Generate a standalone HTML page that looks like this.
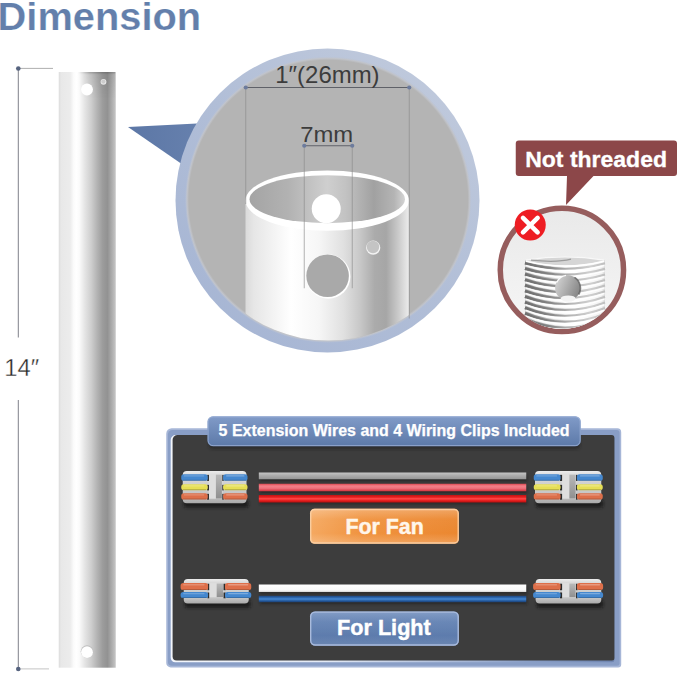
<!DOCTYPE html>
<html lang="en"><head><meta charset="utf-8"><title>Dimension</title>
<style>html,body{margin:0;padding:0;background:#fff}svg{display:block}text{font-family:"Liberation Sans",sans-serif}</style></head><body>
<svg width="679" height="673" viewBox="0 0 679 673">
<defs>
<linearGradient id="rod" x1="0" x2="1" y1="0" y2="0">
<stop offset="0" stop-color="#dcdcdc"/><stop offset="0.04" stop-color="#e8e8e8"/><stop offset="0.20" stop-color="#ececec"/><stop offset="0.26" stop-color="#fbfbfb"/>
<stop offset="0.31" stop-color="#ffffff"/><stop offset="0.36" stop-color="#fbfbfb"/><stop offset="0.46" stop-color="#e4e4e4"/><stop offset="0.57" stop-color="#cecece"/>
<stop offset="0.67" stop-color="#b4b4b4"/><stop offset="0.77" stop-color="#9c9c9c"/><stop offset="0.855" stop-color="#929292"/><stop offset="0.92" stop-color="#a8a8a8"/><stop offset="1" stop-color="#c6c6c6"/></linearGradient>
<linearGradient id="rodtop" x1="0" x2="0" y1="0" y2="1"><stop offset="0" stop-color="#000" stop-opacity="0.24"/><stop offset="0.1" stop-color="#000" stop-opacity="0.07"/><stop offset="0.6" stop-color="#000" stop-opacity="0.03"/><stop offset="1" stop-color="#000" stop-opacity="0"/></linearGradient>
<radialGradient id="ring" cx="327.5" cy="200.5" r="152" gradientUnits="userSpaceOnUse">
<stop offset="0" stop-color="#b4b4b4"/><stop offset="0.912" stop-color="#b4b4b4"/><stop offset="0.924" stop-color="#c3c6cd"/>
<stop offset="0.94" stop-color="#b7c1d5"/><stop offset="0.965" stop-color="#a9b8d4"/><stop offset="1" stop-color="#a2b3d2"/></radialGradient>
<clipPath id="inner"><circle cx="328.3" cy="199.6" r="141"/></clipPath>
<linearGradient id="tube" x1="0" x2="1" y1="0" y2="0">
<stop offset="0" stop-color="#dadada"/><stop offset="0.05" stop-color="#e6e6e6"/><stop offset="0.28" stop-color="#ffffff"/>
<stop offset="0.45" stop-color="#f6f6f6"/><stop offset="0.60" stop-color="#e0e0e0"/><stop offset="0.70" stop-color="#c8c8c8"/><stop offset="0.79" stop-color="#ababab"/>
<stop offset="0.86" stop-color="#a6a6a6"/><stop offset="0.93" stop-color="#c8c8c8"/><stop offset="1" stop-color="#ececec"/></linearGradient>
<linearGradient id="tubein" x1="0" x2="1" y1="0" y2="0">
<stop offset="0" stop-color="#a4a4a4"/><stop offset="0.25" stop-color="#b2b2b2"/><stop offset="0.50" stop-color="#cfcfcf"/>
<stop offset="0.62" stop-color="#c2c2c2"/><stop offset="0.80" stop-color="#a1a1a1"/><stop offset="0.93" stop-color="#b4b4b4"/>
<stop offset="1" stop-color="#d4d4d4"/></linearGradient>
<linearGradient id="ptr" x1="0" x2="1" y1="0" y2="0"><stop offset="0" stop-color="#5c77a6"/><stop offset="1" stop-color="#6680ad"/></linearGradient>
<linearGradient id="thbg" x1="0" x2="0" y1="0" y2="1"><stop offset="0" stop-color="#e9e9e9"/><stop offset="1" stop-color="#f6f6f6"/></linearGradient>
<clipPath id="thclip"><circle cx="561.9" cy="269.9" r="59"/></clipPath>
<linearGradient id="thshade" x1="0" x2="1" y1="0" y2="0"><stop offset="0" stop-color="#707070" stop-opacity="0.55"/><stop offset="0.18" stop-color="#9a9a9a" stop-opacity="0.2"/>
<stop offset="0.5" stop-color="#fff" stop-opacity="0.15"/><stop offset="0.8" stop-color="#fff" stop-opacity="0.35"/><stop offset="1" stop-color="#999" stop-opacity="0.35"/></linearGradient>
<linearGradient id="thhole" x1="0" x2="1" y1="0.2" y2="0.6"><stop offset="0" stop-color="#d4d4d4"/><stop offset="0.45" stop-color="#b1b1b1"/><stop offset="1" stop-color="#858585"/></linearGradient>
<linearGradient id="tab" x1="0" x2="0" y1="0" y2="1"><stop offset="0" stop-color="#819bc8"/><stop offset="1" stop-color="#5c79a8"/></linearGradient>
<linearGradient id="fan" x1="0" x2="1" y1="0" y2="0"><stop offset="0" stop-color="#f5a961"/><stop offset="0.35" stop-color="#f0933f"/><stop offset="1" stop-color="#eb8730"/></linearGradient>
<linearGradient id="light" x1="0" x2="0" y1="0" y2="1"><stop offset="0" stop-color="#6d8bbb"/><stop offset="1" stop-color="#5776a7"/></linearGradient>
<linearGradient id="wgrey" x1="0" x2="0" y1="0" y2="1"><stop offset="0" stop-color="#c6c6c6"/><stop offset="0.4" stop-color="#aeaeae"/><stop offset="1" stop-color="#959595"/></linearGradient>
<linearGradient id="wpink" x1="0" x2="0" y1="0" y2="1"><stop offset="0" stop-color="#dc4650"/><stop offset="0.3" stop-color="#f28088"/><stop offset="0.6" stop-color="#ee727c"/><stop offset="1" stop-color="#d2303b"/></linearGradient>
<linearGradient id="wred" x1="0" x2="0" y1="0" y2="1"><stop offset="0" stop-color="#c01212"/><stop offset="0.3" stop-color="#e82020"/><stop offset="0.5" stop-color="#ff4b4b"/><stop offset="0.7" stop-color="#ec2323"/><stop offset="1" stop-color="#b80e0e"/></linearGradient>
<linearGradient id="wwhite" x1="0" x2="0" y1="0" y2="1"><stop offset="0" stop-color="#ffffff"/><stop offset="0.75" stop-color="#fafafa"/><stop offset="1" stop-color="#d4d4d4"/></linearGradient>
<linearGradient id="wblue" x1="0" x2="0" y1="0" y2="1"><stop offset="0" stop-color="#1c447c"/><stop offset="0.3" stop-color="#2d68b0"/><stop offset="0.5" stop-color="#4588d2"/><stop offset="0.72" stop-color="#2b64a9"/><stop offset="1" stop-color="#193f75"/></linearGradient>
<linearGradient id="clipbody" x1="0" x2="0" y1="0" y2="1"><stop offset="0" stop-color="#ececec"/><stop offset="0.15" stop-color="#d9d9d9"/><stop offset="0.8" stop-color="#c2c2c2"/><stop offset="1" stop-color="#a9a9a9"/></linearGradient>
<linearGradient id="slot" x1="0" x2="0" y1="0" y2="1"><stop offset="0" stop-color="#b9b9b9"/><stop offset="1" stop-color="#8f8f8f"/></linearGradient>
<filter id="blur2" x="-20%" y="-50%" width="140%" height="200%"><feGaussianBlur stdDeviation="1.6"/></filter>
<filter id="blur1" x="-20%" y="-50%" width="140%" height="200%"><feGaussianBlur stdDeviation="0.8"/></filter>
</defs>
<rect width="679" height="673" fill="#fff"/>
<text x="-2.4" y="30" font-size="38.5" font-weight="700" fill="#637fab" stroke="#ffffff" stroke-width="0.2" textLength="203.6" lengthAdjust="spacingAndGlyphs">Dimension</text>
<g>
<line x1="18.3" y1="68.4" x2="53" y2="68.4" stroke="#8c8c8c" stroke-width="0.7"/>
<line x1="18.3" y1="668.9" x2="49" y2="668.9" stroke="#9c9c9c" stroke-width="0.6"/>
<line x1="18.3" y1="68.5" x2="18.3" y2="337.5" stroke="#474b58" stroke-width="0.7"/>
<line x1="18.3" y1="400" x2="18.3" y2="669" stroke="#474b58" stroke-width="0.7"/>
<circle cx="18.3" cy="68.5" r="2.3" fill="#56637f"/>
<circle cx="18.3" cy="669" r="2.3" fill="#56637f"/>
<text x="4.3" y="375.9" font-size="23.8" fill="#262626" stroke="#ffffff" stroke-width="0.35">14″</text>
</g>
<g>
<rect x="58.75" y="72" width="57" height="595.7" fill="url(#rod)"/>
<mask id="rtm"><linearGradient id="rtmg" x1="0" x2="1" y1="0" y2="0"><stop offset="0.33" stop-color="#000"/><stop offset="0.55" stop-color="#fff"/></linearGradient><rect x="58.75" y="72" width="56.75" height="30" fill="url(#rtmg)"/></mask>
<rect x="58.75" y="72" width="56.75" height="27" fill="url(#rodtop)" mask="url(#rtm)"/>
<circle cx="87" cy="89.5" r="5.9" fill="#ffffff"/>
<circle cx="103.5" cy="81.8" r="2.9" fill="#e9e9e9"/><circle cx="103.4" cy="81.6" r="2.1" fill="#cdcdcd"/>
<circle cx="87" cy="651.6" r="6.3" fill="#bdbdbd"/><circle cx="87" cy="652.2" r="5.9" fill="#ffffff"/>
</g>
<polygon points="128,127 197,123.4 181,163.5" fill="url(#ptr)"/>
<linearGradient id="ringlin" x1="0.85" y1="0.1" x2="0.15" y2="0.9"><stop offset="0" stop-color="#bfc9dc"/><stop offset="0.5" stop-color="#b1bed7"/><stop offset="1" stop-color="#a7b6d4"/></linearGradient>
<radialGradient id="innerRad" cx="328.3" cy="199.6" r="143.4" gradientUnits="userSpaceOnUse"><stop offset="0" stop-color="#b4b4b4"/><stop offset="0.972" stop-color="#b4b4b4"/><stop offset="0.986" stop-color="#c1c4cb"/><stop offset="1" stop-color="#b9c3d7" stop-opacity="0"/></radialGradient>
<circle cx="327.5" cy="200.5" r="152" fill="url(#ringlin)"/>
<circle cx="328.3" cy="199.6" r="143.4" fill="url(#innerRad)"/>
<g clip-path="url(#inner)">
<rect x="245.5" y="200.5" width="163.5" height="170" fill="url(#tube)"/>
</g>
<ellipse cx="327.25" cy="200.6" rx="81.75" ry="30.1" fill="#ffffff"/>
<ellipse cx="327.25" cy="199.2" rx="77.7" ry="24" fill="url(#tubein)"/>
<circle cx="326.25" cy="208.75" r="14.5" fill="#ffffff"/>
<circle cx="328.2" cy="276.5" r="22.2" fill="#ffffff"/><circle cx="327.6" cy="275.8" r="21.3" fill="#a9a9a9"/>
<circle cx="373.2" cy="247.7" r="7.1" fill="#f3f3f3"/><circle cx="373" cy="247" r="6.2" fill="#c4c4c4"/>
<g stroke="#8a8a8a" stroke-width="0.65" fill="none">
<line x1="245.75" y1="87.5" x2="245.75" y2="204"/>
<line x1="409.25" y1="87.5" x2="409.25" y2="318.5"/>
<line x1="304.25" y1="145.75" x2="304.25" y2="288.25"/>
<line x1="352.25" y1="145.75" x2="352.25" y2="288.25"/>
</g>
<g stroke="#5f6168" stroke-width="1" fill="none">
<line x1="245.75" y1="87.5" x2="409.25" y2="87.5"/>
<line x1="304.25" y1="145.75" x2="352.25" y2="145.75"/>
</g>
<circle cx="245.75" cy="87.5" r="2.1" fill="#6c7b9d"/>
<circle cx="409.25" cy="87.5" r="2.1" fill="#6c7b9d"/>
<circle cx="304.25" cy="145.75" r="2.1" fill="#6c7b9d"/>
<circle cx="352.25" cy="145.75" r="2.1" fill="#6c7b9d"/>
<text x="275.3" y="82.6" font-size="23.6" fill="#3c3c3c" textLength="104.3" lengthAdjust="spacingAndGlyphs">1″(26mm)</text>
<text x="300.2" y="141.6" font-size="22.6" fill="#3c3c3c" textLength="53" lengthAdjust="spacingAndGlyphs">7mm</text>
<path d="M518.75,140.5 H674 a3,3 0 0 1 3,3 V173 a3,3 0 0 1 -3,3 H593.5 L566,205 L567,176 H518.75 a3,3 0 0 1 -3,-3 V143.5 a3,3 0 0 1 3,-3 Z" fill="#8c4749"/>
<text x="525.2" y="166.6" font-size="21.9" font-weight="700" fill="#ffffff" stroke="#ffffff" stroke-width="0.3" textLength="141.8" lengthAdjust="spacingAndGlyphs">Not threaded</text>
<circle cx="561.9" cy="269.9" r="61.65" fill="url(#thbg)" stroke="#965d5d" stroke-width="5.5"/>
<g clip-path="url(#thclip)">
<linearGradient id="thline" gradientUnits="userSpaceOnUse" x1="526" x2="606" y1="0" y2="0"><stop offset="0" stop-color="#6a6a6a"/><stop offset="0.3" stop-color="#8c8c8c"/><stop offset="0.55" stop-color="#b4b4b4"/><stop offset="0.8" stop-color="#cfcfcf"/><stop offset="1" stop-color="#bdbdbd"/></linearGradient>
<linearGradient id="thline2" gradientUnits="userSpaceOnUse" x1="526" x2="606" y1="0" y2="0"><stop offset="0" stop-color="#707070" stop-opacity="0.9"/><stop offset="0.25" stop-color="#7c7c7c" stop-opacity="0.55"/><stop offset="0.5" stop-color="#8a8a8a" stop-opacity="0"/></linearGradient>
<linearGradient id="thbase" gradientUnits="userSpaceOnUse" x1="526" x2="606" y1="0" y2="0"><stop offset="0" stop-color="#c9c9c9"/><stop offset="0.12" stop-color="#f4f4f4"/><stop offset="0.6" stop-color="#ffffff"/><stop offset="0.94" stop-color="#f4f4f4"/><stop offset="1" stop-color="#d2d2d2"/></linearGradient>
<path d="M525.0,260.5 Q565.0,252.5 605.0,260.5 V345 H525.0 Z" fill="url(#thbase)"/>
<path d="M525.0,263.20 Q565.0,274.20 605.0,263.20" fill="none" stroke="url(#thline)" stroke-width="2.1"/>
<path d="M525.0,262.90 Q565.0,273.90 605.0,262.90" fill="none" stroke="url(#thline2)" stroke-width="3.1"/>
<path d="M525.5,265.50 Q565.0,276.50 604.5,265.50" fill="none" stroke="#ffffff" stroke-width="1.5" opacity="0.9"/>
<path d="M525.0,268.80 Q565.0,280.36 605.0,268.80" fill="none" stroke="url(#thline)" stroke-width="2.1"/>
<path d="M525.0,268.50 Q565.0,280.06 605.0,268.50" fill="none" stroke="url(#thline2)" stroke-width="3.1"/>
<path d="M525.5,271.10 Q565.0,282.66 604.5,271.10" fill="none" stroke="#ffffff" stroke-width="1.5" opacity="0.9"/>
<path d="M525.0,274.40 Q565.0,286.52 605.0,274.40" fill="none" stroke="url(#thline)" stroke-width="2.1"/>
<path d="M525.0,274.10 Q565.0,286.22 605.0,274.10" fill="none" stroke="url(#thline2)" stroke-width="3.1"/>
<path d="M525.5,276.70 Q565.0,288.82 604.5,276.70" fill="none" stroke="#ffffff" stroke-width="1.5" opacity="0.9"/>
<path d="M525.0,280.00 Q565.0,292.68 605.0,280.00" fill="none" stroke="url(#thline)" stroke-width="2.1"/>
<path d="M525.0,279.70 Q565.0,292.38 605.0,279.70" fill="none" stroke="url(#thline2)" stroke-width="3.1"/>
<path d="M525.5,282.30 Q565.0,294.98 604.5,282.30" fill="none" stroke="#ffffff" stroke-width="1.5" opacity="0.9"/>
<path d="M525.0,285.60 Q565.0,298.84 605.0,285.60" fill="none" stroke="url(#thline)" stroke-width="2.1"/>
<path d="M525.0,285.30 Q565.0,298.54 605.0,285.30" fill="none" stroke="url(#thline2)" stroke-width="3.1"/>
<path d="M525.5,287.90 Q565.0,301.14 604.5,287.90" fill="none" stroke="#ffffff" stroke-width="1.5" opacity="0.9"/>
<path d="M525.0,291.20 Q565.0,305.00 605.0,291.20" fill="none" stroke="url(#thline)" stroke-width="2.1"/>
<path d="M525.0,290.90 Q565.0,304.70 605.0,290.90" fill="none" stroke="url(#thline2)" stroke-width="3.1"/>
<path d="M525.5,293.50 Q565.0,307.30 604.5,293.50" fill="none" stroke="#ffffff" stroke-width="1.5" opacity="0.9"/>
<path d="M525.0,296.80 Q565.0,311.16 605.0,296.80" fill="none" stroke="url(#thline)" stroke-width="2.1"/>
<path d="M525.0,296.50 Q565.0,310.86 605.0,296.50" fill="none" stroke="url(#thline2)" stroke-width="3.1"/>
<path d="M525.5,299.10 Q565.0,313.46 604.5,299.10" fill="none" stroke="#ffffff" stroke-width="1.5" opacity="0.9"/>
<path d="M525.0,302.40 Q565.0,317.32 605.0,302.40" fill="none" stroke="url(#thline)" stroke-width="2.1"/>
<path d="M525.0,302.10 Q565.0,317.02 605.0,302.10" fill="none" stroke="url(#thline2)" stroke-width="3.1"/>
<path d="M525.5,304.70 Q565.0,319.62 604.5,304.70" fill="none" stroke="#ffffff" stroke-width="1.5" opacity="0.9"/>
<path d="M525.0,308.00 Q565.0,323.48 605.0,308.00" fill="none" stroke="url(#thline)" stroke-width="2.1"/>
<path d="M525.0,307.70 Q565.0,323.18 605.0,307.70" fill="none" stroke="url(#thline2)" stroke-width="3.1"/>
<path d="M525.5,310.30 Q565.0,325.78 604.5,310.30" fill="none" stroke="#ffffff" stroke-width="1.5" opacity="0.9"/>
<path d="M525.0,313.60 Q565.0,329.64 605.0,313.60" fill="none" stroke="url(#thline)" stroke-width="2.1"/>
<path d="M525.0,313.30 Q565.0,329.34 605.0,313.30" fill="none" stroke="url(#thline2)" stroke-width="3.1"/>
<path d="M525.5,315.90 Q565.0,331.94 604.5,315.90" fill="none" stroke="#ffffff" stroke-width="1.5" opacity="0.9"/>
<path d="M525.0,319.20 Q565.0,335.80 605.0,319.20" fill="none" stroke="url(#thline)" stroke-width="2.1"/>
<path d="M525.0,318.90 Q565.0,335.50 605.0,318.90" fill="none" stroke="url(#thline2)" stroke-width="3.1"/>
<path d="M525.5,321.50 Q565.0,338.10 604.5,321.50" fill="none" stroke="#ffffff" stroke-width="1.5" opacity="0.9"/>
<path d="M525.0,324.80 Q565.0,341.96 605.0,324.80" fill="none" stroke="url(#thline)" stroke-width="2.1"/>
<path d="M525.0,324.50 Q565.0,341.66 605.0,324.50" fill="none" stroke="url(#thline2)" stroke-width="3.1"/>
<path d="M525.5,327.10 Q565.0,344.26 604.5,327.10" fill="none" stroke="#ffffff" stroke-width="1.5" opacity="0.9"/>
<path d="M525.0,330.40 Q565.0,348.12 605.0,330.40" fill="none" stroke="url(#thline)" stroke-width="2.1"/>
<path d="M525.0,330.10 Q565.0,347.82 605.0,330.10" fill="none" stroke="url(#thline2)" stroke-width="3.1"/>
<path d="M525.5,332.70 Q565.0,350.42 604.5,332.70" fill="none" stroke="#ffffff" stroke-width="1.5" opacity="0.9"/>
<path d="M525.0,336.00 Q565.0,354.28 605.0,336.00" fill="none" stroke="url(#thline)" stroke-width="2.1"/>
<path d="M525.0,335.70 Q565.0,353.98 605.0,335.70" fill="none" stroke="url(#thline2)" stroke-width="3.1"/>
<path d="M525.5,338.30 Q565.0,356.58 604.5,338.30" fill="none" stroke="#ffffff" stroke-width="1.5" opacity="0.9"/>
<path d="M525.0,260.5 Q565.0,252.5 605.0,260.5 Q565.0,270.5 525.0,260.5 Z" fill="#d6d6d6"/>
<path d="M526.0,260.2 Q565.0,253.6 604.0,260.2" fill="none" stroke="#f8f8f8" stroke-width="1.3"/>
<path d="M526.0,261.2 Q565.0,270.6 604.0,261.2" fill="none" stroke="#ffffff" stroke-width="1.5"/>
<path d="M531.0,260.2 Q557.0,262.8 571.0,259.2" fill="none" stroke="#8d8d8d" stroke-width="1.3" opacity="0.8"/>
<circle cx="567.7" cy="287.9" r="12.6" fill="url(#thhole)"/>
<path d="M574.5,277.4 A12.6,12.6 0 0 1 578.6,294.5" fill="none" stroke="#5e5e5e" stroke-width="1.7" opacity="0.75"/>
<path d="M556.6,282.5 A12.6,12.6 0 0 1 566,275.4" fill="none" stroke="#ffffff" stroke-width="1.4" opacity="0.9"/>
<ellipse cx="568.2" cy="298.6" rx="7.4" ry="3.2" fill="#f4f4f4"/>
</g>
<circle cx="530.25" cy="225" r="15.5" fill="#ee1d23"/>
<path d="M523,217.9 L537.6,232.3 M537.6,217.9 L523,232.3" stroke="#ffffff" stroke-width="4.6" stroke-linecap="round"/>
<linearGradient id="wl" gradientUnits="userSpaceOnUse" x1="170" x2="615" y1="0" y2="0"><stop offset="0" stop-color="#f3f6fb"/><stop offset="0.35" stop-color="#e3e9f4"/><stop offset="0.8" stop-color="#8a9fc7"/><stop offset="1" stop-color="#6f85b0"/></linearGradient>
<path d="M171.75,428.25 H617.2 A4,4 0 0 1 621.2,432.25 V664.4 A3,3 0 0 1 618.2,667.4 H170.75 A4.5,4.5 0 0 1 166.25,662.9 V433.75 A5.5,5.5 0 0 1 171.75,428.25 Z" fill="#a6b6d7"/>
<path d="M172.5,430 H616.6 A3,3 0 0 1 619.6,433 V663.2 A2.5,2.5 0 0 1 617.1,665.7 H171.9 A4,4 0 0 1 167.9,661.7 V434.6 A4.6,4.6 0 0 1 172.5,430 Z" fill="#899ec6"/>
<path d="M175.7,435 H611.4 A3,3 0 0 1 614.4,438 V659.8 A2.5,2.5 0 0 1 611.9,662.3 H175.2 A4.5,4.5 0 0 1 170.7,657.8 V440 A5,5 0 0 1 175.7,435 Z" fill="url(#wl)"/>
<path d="M177.6,435 H611.4 A3,3 0 0 1 614.4,438 V658.0 A2.5,2.5 0 0 1 611.9,660.5 H176.6 A4,4 0 0 1 172.6,656.5 V440 A5,5 0 0 1 177.6,435 Z" fill="#3d3d3d"/>
<rect x="209" y="440" width="371" height="9" rx="4" fill="#1e1e1e" opacity="0.55" filter="url(#blur2)"/>
<rect x="207.5" y="416.25" width="373.25" height="30" rx="5.5" fill="url(#tab)"/>
<rect x="208.1" y="416.85" width="372.05" height="28.8" rx="5" fill="none" stroke="#9fb3d8" stroke-width="1" opacity="0.8"/>
<text x="218.6" y="435.8" font-size="16.2" font-weight="700" fill="#ffffff" stroke="#ffffff" stroke-width="0.25" textLength="351" lengthAdjust="spacingAndGlyphs">5 Extension Wires and 4 Wiring Clips Included</text>
<rect x="259.8" y="475.0" width="267.45" height="6.75" fill="#1c1c1c" opacity="0.45" filter="url(#blur1)"/>
<rect x="258.8" y="472.5" width="267.45" height="6.75" fill="url(#wgrey)"/>
<rect x="259.8" y="486.25" width="267.45" height="7.5" fill="#1c1c1c" opacity="0.45" filter="url(#blur1)"/>
<rect x="258.8" y="483.75" width="267.45" height="7.5" fill="url(#wpink)"/>
<rect x="259.8" y="497.5" width="267.45" height="7.5" fill="#1c1c1c" opacity="0.45" filter="url(#blur1)"/>
<rect x="258.8" y="495" width="267.45" height="7.5" fill="url(#wred)"/>
<rect x="259.8" y="587.0" width="267.45" height="7.5" fill="#1c1c1c" opacity="0.45" filter="url(#blur1)"/>
<rect x="258.8" y="584.5" width="267.45" height="7.5" fill="url(#wwhite)"/>
<rect x="259.8" y="598.3" width="267.45" height="6.400000000000091" fill="#1c1c1c" opacity="0.45" filter="url(#blur1)"/>
<rect x="258.8" y="595.8" width="267.45" height="6.400000000000091" fill="url(#wblue)"/>
<rect x="183.75" y="499.75" width="64.75" height="8" rx="3" fill="#121212" opacity="0.8" filter="url(#blur2)"/>
<rect x="182.75" y="471" width="63.75" height="32.25" rx="4" fill="url(#clipbody)"/>
<rect x="208.75" y="474.25" width="13.75" height="24.45" fill="#dedede"/>
<rect x="215.90" y="474.65" width="6.00" height="23.85" fill="url(#slot)"/>
<rect x="207.15" y="474.85" width="1.80" height="6.10" fill="#2b2b2b"/>
<rect x="222.3" y="474.85" width="1.40" height="6.10" fill="#2b2b2b"/>
<rect x="181.25" y="474.25" width="26.50" height="6.50" rx="2.6" fill="#4588cf"/>
<rect x="223.1" y="474.25" width="24.40" height="6.50" rx="2.6" fill="#4588cf"/>
<rect x="183.75" y="475.25" width="20.50" height="1.3" rx="0.6" fill="#fff" opacity="0.22"/>
<rect x="226.1" y="475.25" width="18.40" height="1.3" rx="0.6" fill="#fff" opacity="0.30"/>
<rect x="182.75" y="479.65" width="23.50" height="1.1" rx="0.5" fill="#000" opacity="0.18"/>
<rect x="224.6" y="479.65" width="21.40" height="1.1" rx="0.5" fill="#000" opacity="0.18"/>
<rect x="207.15" y="484.85" width="1.80" height="5.55" fill="#2b2b2b"/>
<rect x="222.3" y="484.85" width="1.40" height="5.55" fill="#2b2b2b"/>
<rect x="181.25" y="484.25" width="26.50" height="5.95" rx="2.6" fill="#e6df55"/>
<rect x="223.1" y="484.25" width="24.40" height="5.95" rx="2.6" fill="#e6df55"/>
<rect x="183.75" y="485.25" width="20.50" height="1.3" rx="0.6" fill="#fff" opacity="0.22"/>
<rect x="226.1" y="485.25" width="18.40" height="1.3" rx="0.6" fill="#fff" opacity="0.30"/>
<rect x="182.75" y="489.10" width="23.50" height="1.1" rx="0.5" fill="#000" opacity="0.18"/>
<rect x="224.6" y="489.10" width="21.40" height="1.1" rx="0.5" fill="#000" opacity="0.18"/>
<rect x="207.15" y="493.85" width="1.80" height="5.85" fill="#2b2b2b"/>
<rect x="222.3" y="493.85" width="1.40" height="5.85" fill="#2b2b2b"/>
<rect x="181.25" y="493.25" width="26.50" height="6.25" rx="2.6" fill="#dd6f4a"/>
<rect x="223.1" y="493.25" width="24.40" height="6.25" rx="2.6" fill="#dd6f4a"/>
<rect x="183.75" y="494.25" width="20.50" height="1.3" rx="0.6" fill="#fff" opacity="0.22"/>
<rect x="226.1" y="494.25" width="18.40" height="1.3" rx="0.6" fill="#fff" opacity="0.30"/>
<rect x="182.75" y="498.40" width="23.50" height="1.1" rx="0.5" fill="#000" opacity="0.18"/>
<rect x="224.6" y="498.40" width="21.40" height="1.1" rx="0.5" fill="#000" opacity="0.18"/>
<rect x="536" y="499.75" width="67.25" height="8" rx="3" fill="#121212" opacity="0.8" filter="url(#blur2)"/>
<rect x="535" y="471" width="66.25" height="32.25" rx="4" fill="url(#clipbody)"/>
<rect x="561.9" y="474.25" width="14.350000000000023" height="24.45" fill="#dedede"/>
<rect x="569.36" y="474.65" width="6.29" height="23.85" fill="url(#slot)"/>
<rect x="560.0" y="474.85" width="2.10" height="6.10" fill="#2b2b2b"/>
<rect x="576.05" y="474.85" width="1.45" height="6.10" fill="#2b2b2b"/>
<rect x="533.75" y="474.25" width="26.85" height="6.50" rx="2.6" fill="#4588cf"/>
<rect x="576.9" y="474.25" width="25.85" height="6.50" rx="2.6" fill="#4588cf"/>
<rect x="536.25" y="475.25" width="20.85" height="1.3" rx="0.6" fill="#fff" opacity="0.22"/>
<rect x="579.9" y="475.25" width="19.85" height="1.3" rx="0.6" fill="#fff" opacity="0.30"/>
<rect x="535.25" y="479.65" width="23.85" height="1.1" rx="0.5" fill="#000" opacity="0.18"/>
<rect x="578.4" y="479.65" width="22.85" height="1.1" rx="0.5" fill="#000" opacity="0.18"/>
<rect x="560.0" y="484.85" width="2.10" height="5.55" fill="#2b2b2b"/>
<rect x="576.05" y="484.85" width="1.45" height="5.55" fill="#2b2b2b"/>
<rect x="533.75" y="484.25" width="26.85" height="5.95" rx="2.6" fill="#e6df55"/>
<rect x="576.9" y="484.25" width="25.85" height="5.95" rx="2.6" fill="#e6df55"/>
<rect x="536.25" y="485.25" width="20.85" height="1.3" rx="0.6" fill="#fff" opacity="0.22"/>
<rect x="579.9" y="485.25" width="19.85" height="1.3" rx="0.6" fill="#fff" opacity="0.30"/>
<rect x="535.25" y="489.10" width="23.85" height="1.1" rx="0.5" fill="#000" opacity="0.18"/>
<rect x="578.4" y="489.10" width="22.85" height="1.1" rx="0.5" fill="#000" opacity="0.18"/>
<rect x="560.0" y="493.85" width="2.10" height="5.85" fill="#2b2b2b"/>
<rect x="576.05" y="493.85" width="1.45" height="5.85" fill="#2b2b2b"/>
<rect x="533.75" y="493.25" width="26.85" height="6.25" rx="2.6" fill="#dd6f4a"/>
<rect x="576.9" y="493.25" width="25.85" height="6.25" rx="2.6" fill="#dd6f4a"/>
<rect x="536.25" y="494.25" width="20.85" height="1.3" rx="0.6" fill="#fff" opacity="0.22"/>
<rect x="579.9" y="494.25" width="19.85" height="1.3" rx="0.6" fill="#fff" opacity="0.30"/>
<rect x="535.25" y="498.40" width="23.85" height="1.1" rx="0.5" fill="#000" opacity="0.18"/>
<rect x="578.4" y="498.40" width="22.85" height="1.1" rx="0.5" fill="#000" opacity="0.18"/>
<rect x="184.75" y="600.0" width="66.0" height="8" rx="3" fill="#121212" opacity="0.8" filter="url(#blur2)"/>
<rect x="183.75" y="579" width="65.0" height="24.5" rx="4" fill="url(#clipbody)"/>
<rect x="209" y="583.1" width="14.75" height="14.20" fill="#dedede"/>
<rect x="216.67" y="583.50" width="6.48" height="13.60" fill="url(#slot)"/>
<rect x="207.5" y="583.70" width="1.70" height="6.50" fill="#2b2b2b"/>
<rect x="223.55" y="583.70" width="2.05" height="6.50" fill="#2b2b2b"/>
<rect x="180.6" y="583.10" width="27.50" height="6.90" rx="2.6" fill="#dd6f4a"/>
<rect x="225" y="583.10" width="26.25" height="6.90" rx="2.6" fill="#dd6f4a"/>
<rect x="183.1" y="584.10" width="21.50" height="1.3" rx="0.6" fill="#fff" opacity="0.22"/>
<rect x="228" y="584.10" width="20.25" height="1.3" rx="0.6" fill="#fff" opacity="0.30"/>
<rect x="182.1" y="588.90" width="24.50" height="1.1" rx="0.5" fill="#000" opacity="0.18"/>
<rect x="226.5" y="588.90" width="23.25" height="1.1" rx="0.5" fill="#000" opacity="0.18"/>
<rect x="207.5" y="592.50" width="1.70" height="5.80" fill="#2b2b2b"/>
<rect x="223.55" y="592.50" width="2.05" height="5.80" fill="#2b2b2b"/>
<rect x="180.6" y="591.90" width="27.50" height="6.20" rx="2.6" fill="#4588cf"/>
<rect x="225" y="591.90" width="26.25" height="6.20" rx="2.6" fill="#4588cf"/>
<rect x="183.1" y="592.90" width="21.50" height="1.3" rx="0.6" fill="#fff" opacity="0.22"/>
<rect x="228" y="592.90" width="20.25" height="1.3" rx="0.6" fill="#fff" opacity="0.30"/>
<rect x="182.1" y="597.00" width="24.50" height="1.1" rx="0.5" fill="#000" opacity="0.18"/>
<rect x="226.5" y="597.00" width="23.25" height="1.1" rx="0.5" fill="#000" opacity="0.18"/>
<rect x="536.6" y="600.0" width="66.64999999999998" height="8" rx="3" fill="#121212" opacity="0.8" filter="url(#blur2)"/>
<rect x="535.6" y="579" width="65.64999999999998" height="24.5" rx="4" fill="url(#clipbody)"/>
<rect x="561.9" y="583.1" width="14.350000000000023" height="14.20" fill="#dedede"/>
<rect x="569.36" y="583.50" width="6.29" height="13.60" fill="url(#slot)"/>
<rect x="560.0" y="583.70" width="2.10" height="6.50" fill="#2b2b2b"/>
<rect x="576.05" y="583.70" width="1.45" height="6.50" fill="#2b2b2b"/>
<rect x="533.1" y="583.10" width="27.50" height="6.90" rx="2.6" fill="#dd6f4a"/>
<rect x="576.9" y="583.10" width="26.20" height="6.90" rx="2.6" fill="#dd6f4a"/>
<rect x="535.6" y="584.10" width="21.50" height="1.3" rx="0.6" fill="#fff" opacity="0.22"/>
<rect x="579.9" y="584.10" width="20.20" height="1.3" rx="0.6" fill="#fff" opacity="0.30"/>
<rect x="534.6" y="588.90" width="24.50" height="1.1" rx="0.5" fill="#000" opacity="0.18"/>
<rect x="578.4" y="588.90" width="23.20" height="1.1" rx="0.5" fill="#000" opacity="0.18"/>
<rect x="560.0" y="592.50" width="2.10" height="5.80" fill="#2b2b2b"/>
<rect x="576.05" y="592.50" width="1.45" height="5.80" fill="#2b2b2b"/>
<rect x="533.1" y="591.90" width="27.50" height="6.20" rx="2.6" fill="#4588cf"/>
<rect x="576.9" y="591.90" width="26.20" height="6.20" rx="2.6" fill="#4588cf"/>
<rect x="535.6" y="592.90" width="21.50" height="1.3" rx="0.6" fill="#fff" opacity="0.22"/>
<rect x="579.9" y="592.90" width="20.20" height="1.3" rx="0.6" fill="#fff" opacity="0.30"/>
<rect x="534.6" y="597.00" width="24.50" height="1.1" rx="0.5" fill="#000" opacity="0.18"/>
<rect x="578.4" y="597.00" width="23.20" height="1.1" rx="0.5" fill="#000" opacity="0.18"/>
<rect x="310" y="508.75" width="148.9" height="35" rx="4.5" fill="url(#fan)"/>
<linearGradient id="gloss" x1="0" x2="0" y1="0" y2="1"><stop offset="0" stop-color="#fff" stop-opacity="0.26"/><stop offset="0.3" stop-color="#fff" stop-opacity="0.04"/><stop offset="0.7" stop-color="#fff" stop-opacity="0"/><stop offset="1" stop-color="#fff" stop-opacity="0.2"/></linearGradient>
<rect x="310" y="508.75" width="148.9" height="35" rx="4.5" fill="url(#gloss)"/>
<rect x="310.7" y="509.45" width="147.5" height="33.6" rx="4" fill="none" stroke="#fad0a6" stroke-width="1.4" opacity="0.9"/>
<text x="345.4" y="534.2" font-size="22.2" font-weight="700" fill="#fff6ea" stroke="#fff6ea" stroke-width="0.45" textLength="78.4" lengthAdjust="spacingAndGlyphs">For Fan</text>
<rect x="310" y="611.4" width="148.9" height="34.3" rx="5" fill="url(#light)"/>
<rect x="310" y="611.4" width="148.9" height="34.3" rx="5" fill="url(#gloss)" opacity="0.6"/>
<rect x="310.7" y="612.1" width="147.5" height="32.9" rx="4.5" fill="none" stroke="#adbede" stroke-width="1.4" opacity="0.95"/>
<text x="337" y="634.9" font-size="22.2" font-weight="700" fill="#ffffff" stroke="#ffffff" stroke-width="0.45" textLength="93.8" lengthAdjust="spacingAndGlyphs">For Light</text>
</svg></body></html>
